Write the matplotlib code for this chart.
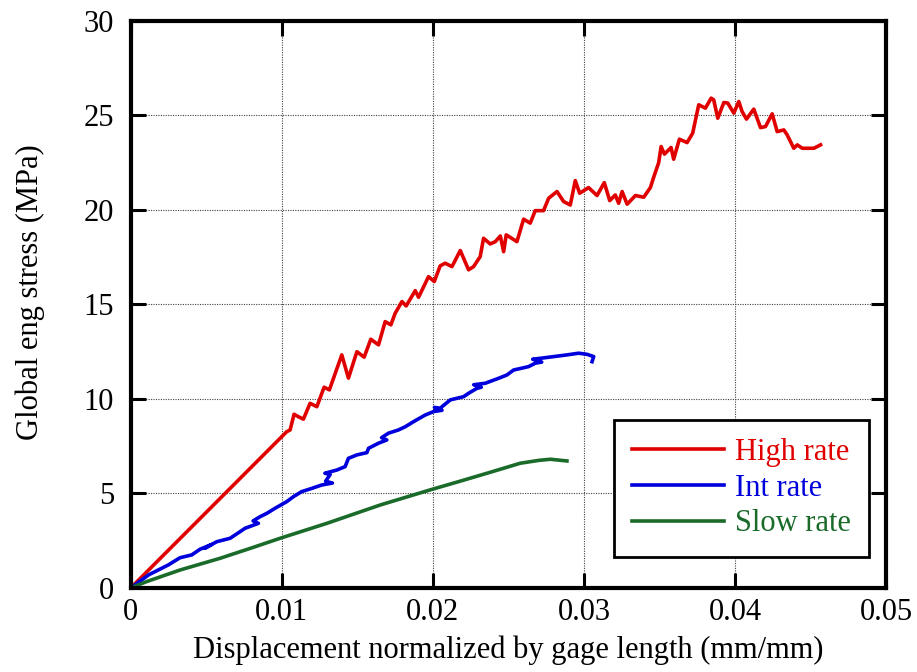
import matplotlib
matplotlib.use("Agg")
import matplotlib.pyplot as plt
import numpy as np

# stress-strain curves (strain in 1e-3 mm/mm, stress in MPa)
high_x = [0, 10.33, 10.55, 10.81, 11.10, 11.43, 11.87, 12.32, 12.80, 13.15,
          13.97, 14.41, 14.97, 15.45, 15.89, 16.40, 16.84, 17.22, 17.50, 17.95,
          18.23, 18.83, 19.05, 19.71, 20.09, 20.48, 20.81, 21.26, 21.81, 22.36,
          22.69, 23.13, 23.35, 23.79, 24.13, 24.46, 24.68, 24.85, 25.56, 26.00,
          26.44, 26.77, 27.32, 27.66, 28.21, 28.65, 29.09, 29.42, 29.71, 30.30,
          30.86, 31.34, 31.70, 32.07, 32.29, 32.52, 32.85, 33.40, 33.95, 34.39,
          34.61, 34.94, 35.10, 35.32, 35.76, 35.93, 36.31, 36.82, 37.19, 37.59,
          38.03, 38.41, 38.58, 38.85, 39.25, 39.51, 39.91, 40.24, 40.46, 40.75,
          41.23, 41.68, 42.01, 42.45, 42.78, 43.22, 43.44, 43.88, 44.11, 44.44,
          45.21, 45.65]
high_y = [0, 8.27, 8.36, 9.19, 9.06, 8.93, 9.77, 9.59, 10.62, 10.48,
          12.33, 11.10, 12.50, 12.21, 13.16, 12.86, 14.09, 13.92, 14.53, 15.15,
          14.92, 15.73, 15.38, 16.47, 16.21, 17.04, 17.18, 17.00, 17.85, 16.83,
          17.00, 17.53, 18.50, 18.20, 18.32, 18.62, 17.79, 18.68, 18.32, 19.51,
          19.30, 19.96, 19.96, 20.62, 20.97, 20.44, 20.26, 21.55, 20.88, 21.18,
          20.76, 21.44, 20.49, 20.79, 20.35, 20.97, 20.30, 20.76, 20.67, 21.18,
          21.73, 22.50, 23.35, 22.95, 23.30, 22.68, 23.74, 23.56, 24.06, 25.56,
          25.38, 25.91, 25.82, 24.85, 25.68, 25.65, 25.12, 25.73, 25.20, 24.80,
          25.33, 24.35, 24.41, 25.08, 24.14, 24.23, 23.97, 23.26, 23.44, 23.26,
          23.26, 23.44]

int_x = [0, 1.20, 2.49, 3.26, 4.04, 4.59, 5.35, 4.90, 5.70, 6.58, 7.24,
         7.57, 8.45, 8.10, 8.56, 9.01, 9.56, 10.33, 10.77, 11.32, 11.99,
         12.65, 13.35, 12.90, 13.20, 12.85, 13.64, 14.19, 14.41, 14.97, 15.63,
         15.74, 16.40, 16.95, 16.60, 17.06, 17.72, 18.17, 18.72, 19.49, 20.04,
         20.60, 20.10, 20.48, 21.15, 22.03, 22.36, 22.91, 23.20, 22.70, 23.46,
         24.34, 24.90, 25.34, 26.33, 26.77, 27.20, 26.60, 27.11, 27.99, 28.87,
         29.64, 30.20, 30.64, 30.53]
int_y = [0, 0.70, 1.22, 1.60, 1.75, 2.05, 2.30, 2.10, 2.45, 2.63, 2.98,
         3.16, 3.42, 3.55, 3.77, 3.95, 4.22, 4.57, 4.83, 5.10, 5.27,
         5.45, 5.55, 5.65, 6.00, 6.07, 6.24, 6.42, 6.86, 7.04, 7.16,
         7.39, 7.66, 7.83, 7.95, 8.19, 8.36, 8.53, 8.80, 9.15, 9.33,
         9.40, 9.55, 9.51, 9.95, 10.12, 10.30, 10.56, 10.62, 10.75, 10.83,
         11.09, 11.27, 11.53, 11.71, 11.89, 11.95, 12.10, 12.15, 12.24, 12.33,
         12.42, 12.36, 12.24, 11.97]

slow_x = [0, 1.06, 3.26, 5.91, 8.00, 9.89, 12.98, 14.80, 16.51, 19.82,
          21.80, 23.58, 25.78, 27.00, 27.77, 28.87]
slow_y = [0, 0.34, 0.95, 1.57, 2.12, 2.63, 3.42, 3.92, 4.39, 5.19,
          5.65, 6.07, 6.60, 6.75, 6.81, 6.72]

x_ticks = [0, 0.01, 0.02, 0.03, 0.04, 0.05]
x_ticklabels = ["0", "0.01", "0.02", "0.03", "0.04", "0.05"]
y_ticks = [0, 5, 10, 15, 20, 25, 30]

plt.rcParams["font.family"] = ["Liberation Serif", "DejaVu Serif"]

fig = plt.figure(figsize=(9.17, 6.72), dpi=100)
ax = fig.add_axes([0.1425, 0.125, 0.824, 0.844])

ax.plot(np.array(high_x) / 1000, high_y, color="#e00000", lw=2.6, label="High rate")
ax.plot(np.array(int_x) / 1000, int_y, color="#0000dd", lw=2.6, label="Int rate")
ax.plot(np.array(slow_x) / 1000, slow_y, color="#1a6b2a", lw=2.6, label="Slow rate")

ax.set_xlim(0, 0.05)
ax.set_ylim(0, 30)
ax.set_xticks(x_ticks)
ax.set_xticklabels(x_ticklabels)
ax.set_yticks(y_ticks)
ax.tick_params(direction="in", length=11, width=2.2, labelsize=22,
               top=True, right=True)
ax.tick_params(axis="x", pad=7)
ax.tick_params(axis="y", pad=12)
for s in ax.spines.values():
    s.set_linewidth(3)

ax.grid(True, ls=(0, (1, 1.2)), lw=0.8, color="0.25")

ax.set_xlabel("Displacement normalized by gage length (mm/mm)", fontsize=22, labelpad=6)
ax.set_ylabel("Global eng stress (MPa)", fontsize=22)
ax.yaxis.set_label_coords(-0.114, 0.521)

leg = ax.legend(loc="lower right", bbox_to_anchor=(0.977, 0.055), fontsize=22,
                fancybox=False, framealpha=1, edgecolor="black",
                handlelength=3.0, handletextpad=0.35, borderpad=0.6,
                labelspacing=0.22, borderaxespad=0)
leg.get_frame().set_linewidth(2)
for txt, line in zip(leg.get_texts(), leg.get_lines()):
    txt.set_color(line.get_color())

fig.savefig("out.png", dpi=100)
